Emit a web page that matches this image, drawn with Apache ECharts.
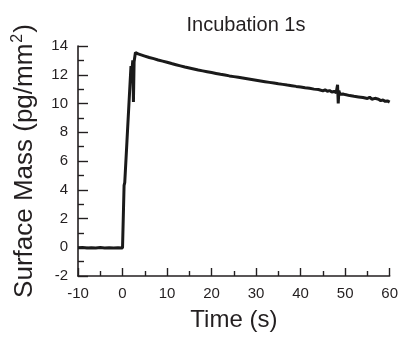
<!DOCTYPE html>
<html>
<head>
<meta charset="utf-8">
<script src="https://cdn.jsdelivr.net/npm/echarts@6/dist/echarts.min.js"></script>
<style>
  html, body { margin: 0; padding: 0; background: #fff; }
  #chart { width: 401px; height: 337px; }
</style>
</head>
<body>
<div id="chart"></div>
<script>
// Surface mass trace for a 1 s incubation pulse
const timeS = [
  -10, -9, -8, -7, -6, -5, -4, -3, -2, -1, 0, 0.15,
  0.35, 0.5, 1.0, 1.5, 1.9, 2.1, 2.3, 2.45, 2.6, 2.9,
  3.5, 4, 5, 6, 7, 8, 9, 10, 11, 12, 13, 14, 15, 16, 17, 18, 19, 20,
  21, 22, 23, 24, 25, 26, 27, 28, 29, 30, 31, 32, 33, 34, 35, 36, 37, 38, 39, 40,
  41, 42, 43, 44, 45, 45.5, 46, 46.5, 47, 47.5, 48, 48.3, 48.45, 48.6, 48.8, 49, 49.5, 50,
  51, 52, 53, 54, 55, 55.5, 56, 56.3, 56.7, 57, 57.5, 58, 58.5, 59, 59.5, 60
];
const massPgMm2 = [
  -0.04, -0.02, -0.05, -0.03, -0.06, -0.02, -0.05, -0.03, -0.06, -0.04, -0.05, -0.02,
  4.3, 4.5, 7.4, 10.3, 12.6, 12.2, 13.0, 10.1, 12.9, 13.55,
  13.45, 13.4, 13.3, 13.2, 13.12, 13.03, 12.95, 12.87, 12.78, 12.7, 12.62, 12.54, 12.47, 12.4, 12.33, 12.27, 12.21, 12.15,
  12.09, 12.03, 11.98, 11.92, 11.87, 11.82, 11.77, 11.72, 11.67, 11.62, 11.57, 11.52, 11.47, 11.42, 11.37, 11.33, 11.28, 11.24, 11.19, 11.15,
  11.1, 11.06, 11.0, 10.97, 10.88, 10.95, 10.85, 10.9, 10.8, 10.84, 10.76, 11.3, 10.0, 10.9, 10.65, 10.7, 10.66, 10.62,
  10.55, 10.5, 10.46, 10.42, 10.35, 10.44, 10.3, 10.18, 10.36, 10.26, 10.3, 10.2, 10.24, 10.15, 10.18, 10.1
];
const xTicks = { min: -10, max: 60, step: 10 };
const yTicks = { min: -2, max: 14, step: 2 };

const points = timeS.map((t, i) => [t, massPgMm2[i]]);
const font = 'Liberation Sans, Arial, Helvetica, sans-serif';
const ink = '#231f20';

const chart = echarts.init(document.getElementById('chart'), null, { renderer: 'canvas' });
chart.setOption({
  animation: false,
  backgroundColor: '#ffffff',
  grid: { left: 78, right: 10, top: 46, bottom: 57, containLabel: false },
  graphic: [{
    type: 'text',
    x: 246,
    y: 25,
    style: {
      text: 'Incubation 1s',
      font: '20px ' + font,
      fill: ink,
      textAlign: 'center',
      textVerticalAlign: 'middle'
    }
  }],
  xAxis: {
    type: 'value',
    min: xTicks.min,
    max: xTicks.max,
    interval: xTicks.step,
    name: 'Time (s)',
    nameLocation: 'middle',
    nameGap: 32,
    nameTextStyle: { fontFamily: font, fontSize: 24, color: ink },
    axisLine: { show: true, onZero: false, lineStyle: { color: ink, width: 1.6 } },
    axisTick: { show: true, inside: true, length: 8, lineStyle: { color: ink, width: 1.4 } },
    minorTick: { show: true, splitNumber: 2, length: 5, lineStyle: { color: ink, width: 1.4 } },
    axisLabel: { fontFamily: font, fontSize: 15, color: ink, margin: 10 },
    splitLine: { show: false },
    minorSplitLine: { show: false }
  },
  yAxis: {
    type: 'value',
    min: yTicks.min,
    max: yTicks.max,
    interval: yTicks.step,
    name: '{a|Surface Mass (pg/mm}{s|2}{a|)}',
    nameLocation: 'middle',
    nameRotate: 90,
    nameGap: 38,
    nameTextStyle: {
      color: ink,
      rich: {
        a: { fontFamily: font, fontSize: 26, color: ink, lineHeight: 30 },
        s: { fontFamily: font, fontSize: 16, color: ink, lineHeight: 30, verticalAlign: 'top', padding: [0, 1, 0, 1] }
      }
    },
    axisLine: { show: true, onZero: false, lineStyle: { color: ink, width: 1.6 } },
    axisTick: { show: true, inside: true, length: 10, lineStyle: { color: ink, width: 1.4 } },
    minorTick: { show: true, splitNumber: 2, length: 6, lineStyle: { color: ink, width: 1.4 } },
    axisLabel: { fontFamily: font, fontSize: 15, color: ink, margin: 10 },
    splitLine: { show: false },
    minorSplitLine: { show: false }
  },
  series: [{
    type: 'line',
    data: points,
    showSymbol: false,
    smooth: false,
    lineStyle: { color: '#1a1a1a', width: 3 },
    z: 3
  }]
});
</script>
</body>
</html>
